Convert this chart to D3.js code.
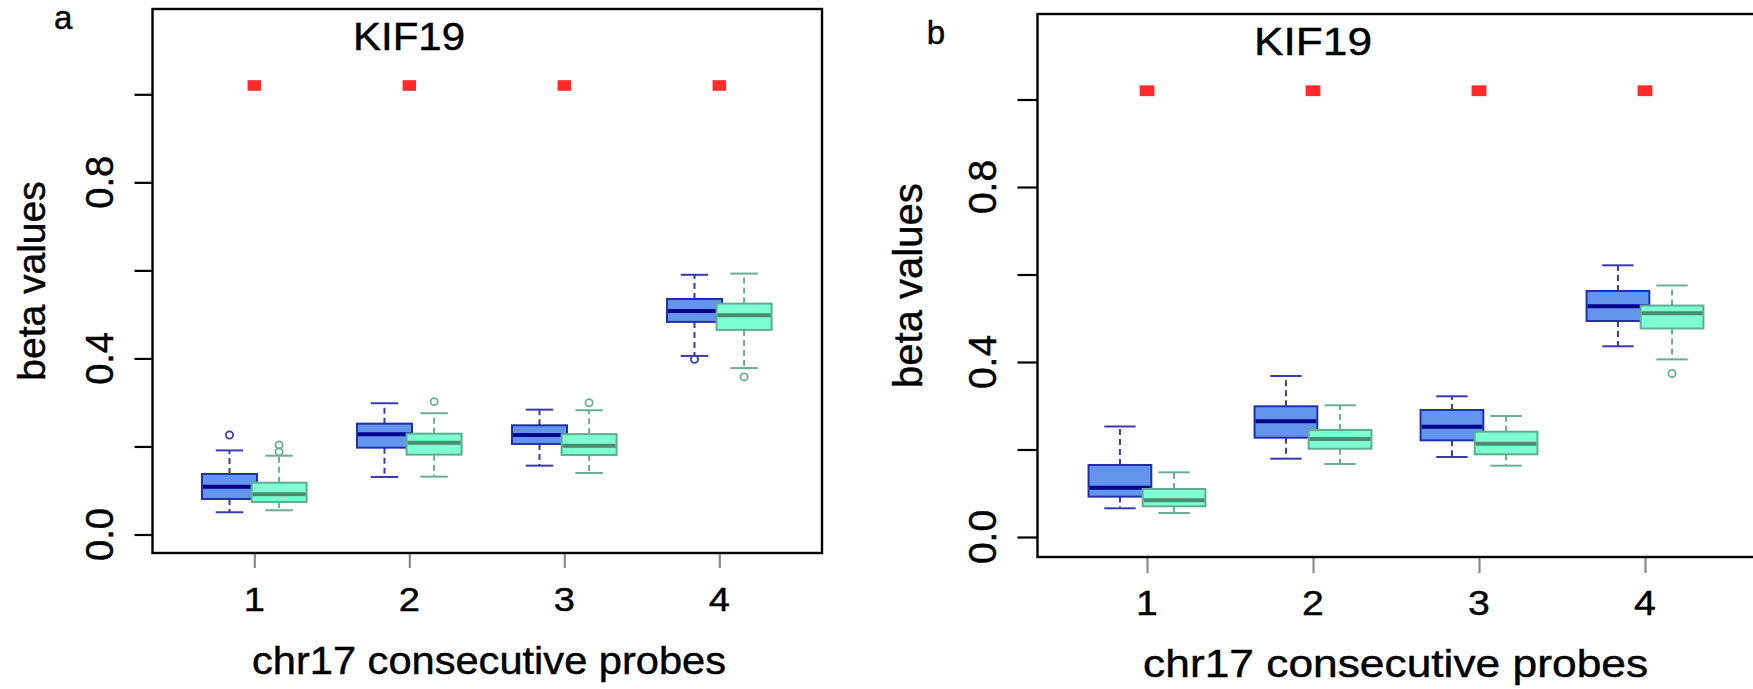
<!DOCTYPE html>
<html>
<head>
<meta charset="utf-8">
<script src="https://cdn.jsdelivr.net/npm/d3@7"></script>
<style>
  html, body { margin: 0; padding: 0; background: #fff; }
  svg { display: block; }
  text { font-family: "Liberation Sans", Arial, Helvetica, sans-serif; fill: #000; stroke: #000; stroke-width: 0.45; }
</style>
</head>
<body>
<svg id="chart" width="1753" height="689"></svg>
<script>
// ---------------- DATA ----------------
const probes = [1, 2, 3, 4];
const xTickLabels = ["1", "2", "3", "4"];
const yTicks = [0, 0.2, 0.4, 0.6, 0.8, 1.0];
const yTickLabels = ["0.0", "", "0.4", "", "0.8", ""];
const geneTitle = "KIF19";
const xAxisTitle = "chr17 consecutive probes";
const yAxisTitle = "beta values";
const markerValue = [1.02, 1.02, 1.02, 1.02];   // red squares above each probe

// five-number summaries per probe: [lower whisker, Q1, median, Q3, upper whisker]
const blueStatsA = [
  [0.0505, 0.0807, 0.1086, 0.1375, 0.191],
  [0.1307, 0.1973, 0.2277, 0.2518, 0.2982],
  [0.1564, 0.2057, 0.2261, 0.2480, 0.2836],
  [0.4057, 0.4830, 0.5080, 0.5350, 0.5900]
];
const greenStatsA = [
  [0.0550, 0.0739, 0.0914, 0.1177, 0.179],
  [0.1314, 0.1814, 0.2086, 0.2290, 0.2755],
  [0.1398, 0.1807, 0.2018, 0.2280, 0.2823],
  [0.3780, 0.4648, 0.4980, 0.5245, 0.5927]
];
const blueOutliersA = [[0.226], [], [], [0.398]];
const greenOutliersA = [[0.2034, 0.188], [0.3018], [0.2993], [0.358]];

const blueStatsB = [
  [0.0656, 0.0923, 0.1125, 0.1646, 0.2526],
  [0.1790, 0.2270, 0.2644, 0.2987, 0.3680],
  [0.1829, 0.2210, 0.2521, 0.2903, 0.3216],
  [0.4359, 0.4937, 0.5273, 0.5623, 0.6210]
];
const greenStatsB = [
  [0.0549, 0.0701, 0.0838, 0.1097, 0.1478],
  [0.1669, 0.2018, 0.2240, 0.2446, 0.3010],
  [0.1630, 0.1890, 0.2133, 0.2407, 0.2766],
  [0.4060, 0.4766, 0.5113, 0.5290, 0.5749]
];
const blueOutliersB = [[], [], [], []];
const greenOutliersB = [[], [], [], [0.3737]];

// ---------------- STYLE / LAYOUT ----------------
const blueStyle  = { fill: "#6495ED", stroke: "#2030a8", median: "#00008B", whisker: "#3a3ab0" };
const greenStyle = { fill: "#7FFFD4", stroke: "#5fae90", median: "#4a8a6d", whisker: "#6aae92" };

const panels = [
  { id: "a", left: 152.5, right: 822, top: 9, bottom: 553,
    xr: [254.3, 719.3], yr: [534.5, 94.3], offset: 0.16, boxW: 0.355,
    letter: { x: 54, y: 29.3 }, title: { x: 409, y: 49.5, len: 112, size: 38 },
    yTickLab: { x: 113.3, size: 38 }, yLab: { x: 45, y: 281, size: 39 },
    xTickLab: { y: 610.7, size: 34 }, xLab: { x: 489, y: 674, len: 474, size: 38 },
    tickLenY: 18, tickLenX: 15, sq: [13.5, 10.6],
    blue: blueStatsA, green: greenStatsA, blueOut: blueOutliersA, greenOut: greenOutliersA },
  { id: "b", left: 1037.5, right: 1759, top: 14, bottom: 557,
    xr: [1147, 1645], yr: [537, 99.5], offset: 0.163, boxW: 0.378,
    letter: { x: 926.7, y: 44.3 }, title: { x: 1313, y: 55, len: 118, size: 39 },
    yTickLab: { x: 996, size: 39 }, yLab: { x: 922, y: 285.6, size: 40 },
    xTickLab: { y: 615, size: 35 }, xLab: { x: 1395.6, y: 676.6, len: 505, size: 39 },
    tickLenY: 20, tickLenX: 16, sq: [14.8, 10.8],
    blue: blueStatsB, green: greenStatsB, blueOut: blueOutliersB, greenOut: greenOutliersB }
];

const svg = d3.select("#chart");

panels.forEach(p => {
  const g = svg.append("g");
  const x = d3.scaleLinear().domain([probes[0], probes[probes.length - 1]]).range(p.xr);
  const y = d3.scaleLinear().domain([0, 1]).range(p.yr);
  const unit = x(2) - x(1);
  const bw = p.boxW * unit;

  // panel letter
  g.append("text").attr("x", p.letter.x).attr("y", p.letter.y)
    .attr("font-size", 33).text(p.id);

  // title
  g.append("text").attr("x", p.title.x).attr("y", p.title.y)
    .attr("text-anchor", "middle").attr("font-size", p.title.size)
    .attr("textLength", p.title.len).attr("lengthAdjust", "spacingAndGlyphs")
    .text(geneTitle);

  // y axis ticks
  const yAxis = d3.axisLeft(y).tickValues(yTicks).tickSize(p.tickLenY).tickFormat("");
  const ya = g.append("g").attr("transform", `translate(${p.left},0)`).call(yAxis);
  ya.select(".domain").remove();
  ya.selectAll(".tick line").attr("stroke", "#000").attr("stroke-width", 2.2);

  // y tick labels (rotated)
  g.selectAll(".ytl").data(yTicks.map((v, i) => ({ v, l: yTickLabels[i] })).filter(d => d.l))
    .enter().append("text")
    .attr("transform", d => `translate(${p.yTickLab.x},${y(d.v)}) rotate(-90)`)
    .attr("text-anchor", "middle").attr("font-size", p.yTickLab.size)
    .text(d => d.l);

  // y axis title
  g.append("text").attr("transform", `translate(${p.yLab.x},${p.yLab.y}) rotate(-90)`)
    .attr("text-anchor", "middle").attr("font-size", p.yLab.size).text(yAxisTitle);

  // x axis ticks
  const xAxis = d3.axisBottom(x).tickValues(probes).tickSize(p.tickLenX).tickFormat("");
  const xa = g.append("g").attr("transform", `translate(0,${p.bottom})`).call(xAxis);
  xa.select(".domain").remove();
  xa.selectAll(".tick line").attr("stroke", "#8a8a8a").attr("stroke-width", 2.2);

  // x tick labels (slightly wide glyphs as in the original)
  g.selectAll(".xtl").data(probes).enter().append("text")
    .attr("transform", d => `translate(${x(d)},${p.xTickLab.y}) scale(1.12,1)`)
    .attr("text-anchor", "middle").attr("font-size", p.xTickLab.size)
    .text((d, i) => xTickLabels[i]);

  // x axis title
  g.append("text").attr("x", p.xLab.x).attr("y", p.xLab.y)
    .attr("text-anchor", "middle").attr("font-size", p.xLab.size)
    .attr("textLength", p.xLab.len).attr("lengthAdjust", "spacingAndGlyphs")
    .text(xAxisTitle);

  // boxplots
  function drawBoxes(stats, outs, st, off) {
    stats.forEach((s, i) => {
      const cx = x(probes[i]) + off * unit;
      const [lo, q1, med, q3, hi] = s;
      const bg = g.append("g");
      bg.append("line").attr("x1", cx).attr("x2", cx).attr("y1", y(q3)).attr("y2", y(hi))
        .attr("stroke", st.whisker).attr("stroke-width", 2).attr("stroke-dasharray", "6,4");
      bg.append("line").attr("x1", cx).attr("x2", cx).attr("y1", y(q1)).attr("y2", y(lo))
        .attr("stroke", st.whisker).attr("stroke-width", 2).attr("stroke-dasharray", "6,4");
      [lo, hi].forEach(v => {
        bg.append("line").attr("x1", cx - bw / 4).attr("x2", cx + bw / 4)
          .attr("y1", y(v)).attr("y2", y(v))
          .attr("stroke", st.whisker).attr("stroke-width", 2);
      });
      bg.append("rect").attr("x", cx - bw / 2).attr("width", bw)
        .attr("y", y(q3)).attr("height", y(q1) - y(q3))
        .attr("fill", st.fill).attr("stroke", st.stroke).attr("stroke-width", 2);
      bg.append("line").attr("x1", cx - bw / 2 + 1).attr("x2", cx + bw / 2 - 1)
        .attr("y1", y(med)).attr("y2", y(med))
        .attr("stroke", st.median).attr("stroke-width", 4);
      outs[i].forEach(v => {
        bg.append("circle").attr("cx", cx).attr("cy", y(v)).attr("r", 3.6)
          .attr("fill", "none").attr("stroke", st.whisker).attr("stroke-width", 1.8);
      });
    });
  }
  drawBoxes(p.blue, p.blueOut, blueStyle, -p.offset);
  drawBoxes(p.green, p.greenOut, greenStyle, p.offset);

  // red squares
  g.selectAll(".sq").data(probes).enter().append("rect")
    .attr("x", d => x(d) - p.sq[0] / 2).attr("y", (d, i) => y(markerValue[i]) - p.sq[1] / 2)
    .attr("width", p.sq[0]).attr("height", p.sq[1]).attr("fill", "#ff2b2b");

  // frame
  g.append("rect").attr("x", p.left).attr("y", p.top)
    .attr("width", p.right - p.left).attr("height", p.bottom - p.top)
    .attr("fill", "none").attr("stroke", "#000").attr("stroke-width", 2.4);
});
</script>
</body>
</html>
